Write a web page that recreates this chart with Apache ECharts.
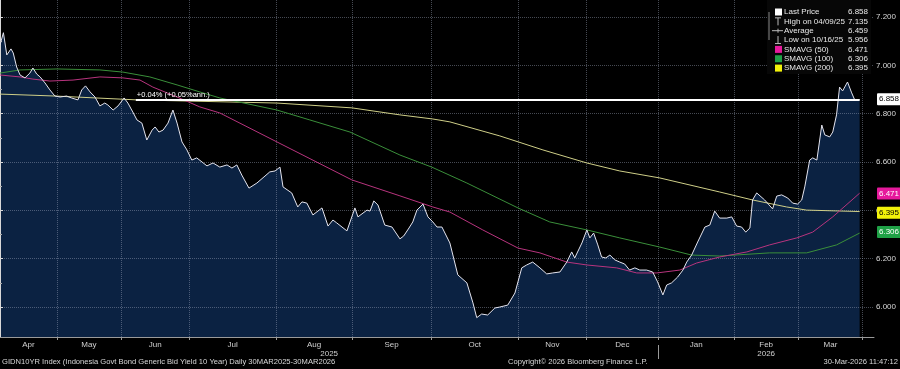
<!DOCTYPE html>
<html><head><meta charset="utf-8">
<script src="https://cdn.jsdelivr.net/npm/echarts@6/dist/echarts.min.js"></script>
<style>html,body{margin:0;padding:0;background:#000;}#c{width:900px;height:369px;}</style>
</head><body><div id="c"></div>
<script>
// ---- data (x = trading-day index from 8 Apr 2025) ----
const monthNames = ['Apr','May','Jun','Jul','Aug','Sep','Oct','Nov','Dec','Jan','Feb','Mar'];
const monthEnds = [15, 32, 50, 73, 93, 114, 137, 155, 174, 194, 211, 228];
const yearNames = ['2025', '2026'];
const yearStart2026 = 174;
const xMax = 231;
const yTicks = [6.0, 6.2, 6.4, 6.6, 6.8, 7.0, 7.2];
const yMinorTicks = [6.1, 6.3, 6.5, 6.7, 6.9, 7.1];
const yMin = 5.876, yMax = 7.2703;

const priceDays = [0,0.9,1.8,2.9,3.5,4.4,5.3,6.6,7.9,8.7,9.7,10.6,11.9,13.2,14.5,15.9,17.6,18.9,20.6,21.6,22.6,23.8,25.1,26.4,27.7,28.5,29.9,31.2,32.8,33.8,35.1,36.2,37.5,38.8,40.2,41.0,42.0,43.1,44.4,45.7,46.8,48.1,49.4,50.7,52.0,53.4,54.7,56.3,58.1,60.0,61.3,62.6,63.9,65.8,67.9,71.3,72.7,74.0,74.8,77.1,78.7,79.8,81.1,82.7,85.1,86.7,88.0,89.0,91.7,93.8,94.6,97.0,97.8,98.8,99.9,101.7,103.6,105.7,106.7,108.1,109.1,110.2,111.8,113.1,114.4,115.5,116.8,118.9,121.0,123.4,125.0,126.0,127.3,128.9,130.8,132.1,134.2,136.1,137.9,139.2,140.8,142.7,144.5,146.1,148.0,149.8,151.1,151.9,153.8,155.1,155.9,156.9,158.0,159.0,160.1,161.2,162.5,163.8,165.1,166.4,167.8,169.1,170.9,172.5,173.8,175.2,176.2,177.5,179.1,180.5,181.5,182.8,184.4,186.3,187.6,188.9,190.2,192.1,193.4,194.7,196.0,197.1,198.2,198.9,200.0,202.1,204.2,205.3,206.6,208.2,209.5,210.8,211.9,212.7,214.0,214.8,215.9,217.2,218.0,219.3,220.1,221.1,221.9,222.7,224.0,225.1,225.9,227.2];
const priceVals = [7.084,7.135,7.043,7.068,7.051,6.993,6.960,6.948,6.968,6.989,6.964,6.952,6.927,6.898,6.873,6.869,6.873,6.865,6.857,6.898,6.915,6.890,6.869,6.832,6.844,6.836,6.815,6.832,6.865,6.844,6.807,6.774,6.761,6.691,6.732,6.745,6.724,6.732,6.761,6.815,6.761,6.683,6.650,6.608,6.617,6.600,6.584,6.596,6.579,6.588,6.575,6.588,6.546,6.492,6.513,6.559,6.563,6.579,6.497,6.472,6.414,6.435,6.430,6.381,6.410,6.335,6.360,6.348,6.315,6.410,6.373,6.401,6.397,6.439,6.422,6.339,6.331,6.282,6.294,6.327,6.352,6.401,6.426,6.373,6.352,6.331,6.331,6.265,6.133,6.100,6.017,5.956,5.971,5.967,5.996,6.000,6.008,6.058,6.162,6.174,6.186,6.162,6.137,6.141,6.145,6.186,6.228,6.203,6.265,6.319,6.286,6.306,6.257,6.207,6.203,6.215,6.195,6.186,6.178,6.153,6.162,6.153,6.153,6.145,6.104,6.050,6.091,6.100,6.124,6.153,6.186,6.215,6.269,6.331,6.339,6.397,6.368,6.368,6.373,6.335,6.331,6.310,6.327,6.443,6.472,6.443,6.406,6.459,6.464,6.451,6.430,6.426,6.443,6.497,6.608,6.617,6.608,6.753,6.712,6.704,6.724,6.795,6.910,6.894,6.931,6.886,6.857,6.858];

const sma50Days = [0,5.3,8.7,13.2,19.3,26.4,32.5,37.0,40.4,46.8,52.8,58.1,73.2,93.0,105.7,114.4,118.9,127.6,136.9,142.7,149.8,155.1,163.0,168.3,173.6,179.7,184.1,190.2,197.4,203.4,210.6,214.8,220.1,227.2];
const sma50Vals = [6.960,6.952,6.943,6.935,6.939,6.952,6.948,6.939,6.910,6.869,6.828,6.803,6.683,6.526,6.460,6.414,6.393,6.319,6.244,6.224,6.186,6.174,6.162,6.141,6.141,6.153,6.182,6.207,6.228,6.257,6.286,6.310,6.373,6.471];

const sma100Days = [0,5.3,15.1,26.4,32.5,39.6,46.8,52.8,58.1,73.2,81.9,92.5,105.7,114.1,123.4,136.9,145.3,155.1,163.8,174.4,182.8,190.2,203.4,213.2,221.1,227.2];
const sma100Vals = [6.968,6.981,6.985,6.981,6.972,6.952,6.919,6.890,6.865,6.815,6.774,6.724,6.629,6.579,6.513,6.410,6.352,6.319,6.286,6.248,6.215,6.211,6.224,6.224,6.257,6.306];

const sma200Days = [0,14.5,36.2,73.2,93.0,105.7,114.4,118.9,132.1,143.5,155.1,163.8,174.4,190.2,198.9,207.9,213.2,227.2];
const sma200Vals = [6.881,6.873,6.857,6.844,6.824,6.795,6.778,6.766,6.708,6.650,6.596,6.563,6.534,6.476,6.443,6.414,6.401,6.395];

const legendNames = ['Last Price','High on 04/09/25','Average','Low on 10/16/25','SMAVG (50)','SMAVG (100)','SMAVG (200)'];
const legendValues = [6.858, 7.135, 6.459, 5.956, 6.471, 6.306, 6.395];
const trendStartDay = 35.9;
const trendEndDay = 227.2;
const trendLabel = '+0.04% (+0.05%ann.)';
const footLeft = 'GIDN10YR Index (Indonesia Govt Bond Generic Bid Yield 10 Year) Daily 30MAR2025-30MAR2026';
const footMid = 'Copyright\u00A9 2026 Bloomberg Finance L.P.';
const footRight = '30-Mar-2026 11:47:12';

// ---- build ----
const zip = (a, b) => a.map((d, i) => [d, b[i]]);
const priceData = zip(priceDays, priceVals);
const monthMids = monthEnds.map((e, i) => ((i === 0 ? 0 : monthEnds[i - 1]) + e) / 2);
const yearMids = [yearStart2026 / 2, (yearStart2026 + xMax) / 2];
const FONT = 'Liberation Sans, Arial, sans-serif';
const gridColor = 'rgba(165,175,195,0.42)';

function tag(val, bg, fg) {
  return {
    yAxis: val,
    lineStyle: { color: 'rgba(0,0,0,0)', width: 0 },
    label: {
      show: true, position: 'end', distance: 3,
      formatter: () => val.toFixed(3),
      backgroundColor: bg, color: fg, fontSize: 8, fontFamily: FONT,
      padding: [2, 2, 2, 2], borderRadius: 1, opacity: 1
    }
  };
}
function lineSeries(name, data, color, width, z, markData) {
  return {
    name, type: 'line', data, symbol: 'none', z, silent: true, clip: false,
    lineStyle: { color, width }, animation: false,
    markLine: markData ? { silent: true, symbol: 'none', animation: false,
      lineStyle: { type: 'solid' }, data: markData } : undefined
  };
}

const chart = echarts.init(document.getElementById('c'), null, { renderer: 'canvas' });
const legendColors = [null, null, null, null, '#e6199c', '#1fa146', '#f2f20a'];
const rowY = legendNames.map((_, i) => 12 + i * 9.35);
const graphics = [
  { type: 'rect', shape: { x: 767, y: 0, width: 104, height: 74 }, style: { fill: '#070707' }, z: 100 },
  { type: 'line', shape: { x1: 769, y1: 12, x2: 769, y2: 40 }, style: { stroke: '#888', lineWidth: 1 }, z: 101 },
  { type: 'rect', shape: { x: 775, y: rowY[0] - 3.5, width: 7, height: 7 }, style: { fill: '#ffffff' }, z: 101 },
  { type: 'line', shape: { x1: 775, y1: rowY[1] - 3.5, x2: 781, y2: rowY[1] - 3.5 }, style: { stroke: '#bbb', lineWidth: 1 }, z: 101 },
  { type: 'line', shape: { x1: 778, y1: rowY[1] - 3.5, x2: 778, y2: rowY[1] + 4 }, style: { stroke: '#bbb', lineWidth: 1 }, z: 101 },
  { type: 'line', shape: { x1: 772, y1: rowY[2], x2: 783, y2: rowY[2] }, style: { stroke: '#bbb', lineWidth: 1 }, z: 101 },
  { type: 'line', shape: { x1: 778, y1: rowY[2] - 2, x2: 778, y2: rowY[2] + 2 }, style: { stroke: '#bbb', lineWidth: 1 }, z: 101 },
  { type: 'line', shape: { x1: 778, y1: rowY[3] - 4, x2: 778, y2: rowY[3] + 3.5 }, style: { stroke: '#bbb', lineWidth: 1 }, z: 101 },
  { type: 'line', shape: { x1: 775, y1: rowY[3] + 3.5, x2: 781, y2: rowY[3] + 3.5 }, style: { stroke: '#bbb', lineWidth: 1 }, z: 101 }
];
legendNames.forEach((n, i) => {
  if (legendColors[i]) graphics.push({ type: 'rect', shape: { x: 775, y: rowY[i] - 3.5, width: 7, height: 7 }, style: { fill: legendColors[i] }, z: 101 });
  graphics.push({ type: 'text', x: 784, y: rowY[i], style: { text: n, fill: '#e8e8e8', font: '8px ' + FONT, textVerticalAlign: 'middle' }, z: 101 });
  graphics.push({ type: 'text', x: 868, y: rowY[i], style: { text: legendValues[i].toFixed(3), fill: '#e8e8e8', font: '8px ' + FONT, textAlign: 'right', textVerticalAlign: 'middle' }, z: 101 });
});
graphics.push({ type: 'text', x: 2, y: 362, style: { text: footLeft, fill: '#d8d8d8', font: '7.6px ' + FONT, textVerticalAlign: 'middle' } });
graphics.push({ type: 'text', x: 508, y: 362, style: { text: footMid, fill: '#d8d8d8', font: '7.6px ' + FONT, textVerticalAlign: 'middle' } });
graphics.push({ type: 'text', x: 898, y: 362, style: { text: footRight, fill: '#d8d8d8', font: '7.6px ' + FONT, textAlign: 'right', textVerticalAlign: 'middle' } });

const option = {
  backgroundColor: '#000',
  animation: false,
  textStyle: { fontFamily: FONT },
  grid: { left: 0, right: 26, top: 0, bottom: 32, containLabel: false, outerBoundsMode: 'none' },
  xAxis: [
    {
      type: 'value', min: 0, max: xMax, z: 1,
      axisLine: { show: true, lineStyle: { color: '#9a9a9a', width: 1 } },
      axisTick: { show: true, customValues: monthEnds, length: 3, lineStyle: { color: '#9a9a9a' } },
      splitLine: { show: true, lineStyle: { color: gridColor, type: 'dotted', width: 1 } },
      axisLabel: {
        customValues: monthMids, margin: 4, color: '#d0d0d0', fontSize: 8, fontFamily: FONT,
        formatter: v => { let k = 0, best = 1e9; monthMids.forEach((m, i) => { if (Math.abs(m - v) < best) { best = Math.abs(m - v); k = i; } }); return monthNames[k]; }
      }
    },
    {
      type: 'value', min: 0, max: xMax, position: 'bottom', offset: 8, z: 1,
      axisLine: { show: false },
      axisTick: { show: true, customValues: [yearStart2026], length: 14, lineStyle: { color: '#9a9a9a' } },
      splitLine: { show: false },
      axisLabel: {
        customValues: yearMids, margin: 5, color: '#d0d0d0', fontSize: 8, fontFamily: FONT,
        formatter: v => (v < yearStart2026 ? yearNames[0] : yearNames[1])
      }
    }
  ],
  yAxis: [
    {
      type: 'value', position: 'right', min: yMin, max: yMax, z: 1,
      axisLine: { show: true, lineStyle: { color: '#d8d8d8', width: 1 } },
      axisTick: { show: true, customValues: yTicks, length: 3, lineStyle: { color: '#d8d8d8' } },
      splitLine: { show: true, lineStyle: { color: gridColor, type: 'dotted', width: 1 } },
      axisLabel: { customValues: yTicks, margin: 2, color: '#d8d8d8', fontSize: 8, fontFamily: FONT, formatter: v => v.toFixed(3) }
    },
    {
      type: 'value', position: 'right', min: yMin, max: yMax, z: 1,
      axisLine: { show: false },
      axisTick: { show: true, customValues: yMinorTicks, length: 2, lineStyle: { color: '#aaaaaa' } },
      splitLine: { show: false },
      axisLabel: { show: false }
    }
  ],
  series: [
    {
      name: 'area', type: 'line', data: priceData, symbol: 'none', z: 0, silent: true,
      lineStyle: { width: 0, opacity: 0 }, areaStyle: { color: '#0b2242', opacity: 1, origin: 'start' }
    },
    lineSeries('SMAVG (200)', zip(sma200Days, sma200Vals), '#cfcf88', 1, 3, [tag(legendValues[6], '#f2f20a', '#000')]),
    lineSeries('SMAVG (100)', zip(sma100Days, sma100Vals), '#3a8f3a', 1, 3, [tag(legendValues[5], '#1fa146', '#fff')]),
    lineSeries('SMAVG (50)', zip(sma50Days, sma50Vals), '#b8347e', 1, 3, [tag(legendValues[4], '#e6199c', '#fff')]),
    lineSeries('Last Price', priceData, '#e4e4ee', 1, 4, [
      tag(legendValues[0], '#ffffff', '#000'),
      [
        { coord: [trendStartDay, legendValues[0]], lineStyle: { color: '#ffffff', width: 2, opacity: 1, type: 'solid' },
          label: { show: true, position: 'insideStartTop', formatter: trendLabel, color: '#ffffff', fontSize: 7.5, fontFamily: FONT, distance: 1 } },
        { coord: [trendEndDay, legendValues[0]], lineStyle: { color: '#ffffff', width: 2, opacity: 1, type: 'solid' } }
      ]
    ])
  ],
  graphic: { elements: graphics }
};
chart.setOption(option);
</script>
</body></html>
